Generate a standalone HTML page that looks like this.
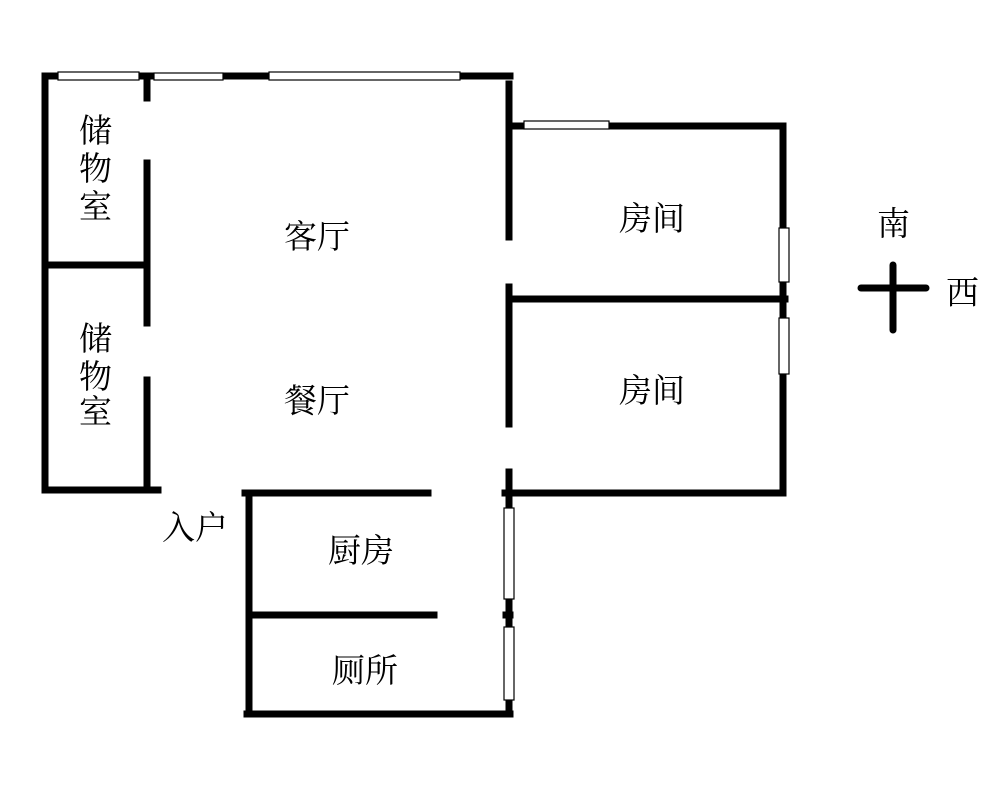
<!DOCTYPE html>
<html><head><meta charset="utf-8"><style>
body{margin:0;background:#fff}
svg{display:block}
text{font-family:"Liberation Serif","Noto Serif CJK SC","Noto Sans CJK SC",serif;font-size:33px;fill:#000}
</style></head><body>
<svg width="1000" height="812" viewBox="0 0 1000 812">
<g stroke="#000" stroke-width="7" fill="none" stroke-linecap="square">
<line x1="45" y1="76" x2="510" y2="76"/>
<line x1="45" y1="76" x2="45" y2="490"/>
<line x1="45" y1="265" x2="146" y2="265"/>
<line x1="45" y1="490" x2="158" y2="490"/>
<line x1="147" y1="76" x2="147" y2="98"/>
<line x1="147" y1="163" x2="147" y2="323"/>
<line x1="147" y1="380" x2="147" y2="488"/>
<line x1="509" y1="84" x2="509" y2="237"/>
<line x1="509" y1="287" x2="509" y2="424"/>
<line x1="509" y1="472" x2="509" y2="713"/>
<line x1="509" y1="126" x2="783" y2="126"/>
<line x1="783" y1="126" x2="783" y2="493"/>
<line x1="509" y1="299" x2="785" y2="299"/>
<line x1="509" y1="493" x2="783" y2="493"/>
<line x1="245" y1="493" x2="428" y2="493"/>
<line x1="249" y1="493" x2="249" y2="714"/>
<line x1="249" y1="615" x2="434" y2="615"/>
<line x1="247" y1="714" x2="510" y2="714"/>
<line x1="506" y1="615" x2="510" y2="615"/>
<line x1="505" y1="493" x2="510" y2="493"/>
<line x1="861" y1="288" x2="926" y2="288" stroke-linecap="round"/>
<line x1="893" y1="265" x2="893" y2="330" stroke-linecap="round"/>
</g>
<g fill="#fff" stroke="#000" stroke-width="1.2">
<rect x="58" y="72" width="81" height="8"/>
<rect x="154" y="73" width="69" height="7"/>
<rect x="269" y="72" width="191" height="8"/>
<rect x="524" y="121" width="85" height="8"/>
<rect x="779" y="228" width="10" height="54"/>
<rect x="779" y="318" width="10" height="56"/>
<rect x="504" y="508" width="10" height="91"/>
<rect x="504" y="627" width="10" height="73"/>
</g>
<text x="79" y="142">储</text>
<text x="79" y="180">物</text>
<text x="79" y="218">室</text>
<text x="79" y="350">储</text>
<text x="79" y="388">物</text>
<text x="79" y="423">室</text>
<text x="284" y="248">客厅</text>
<text x="284" y="412">餐厅</text>
<text x="619" y="230">房间</text>
<text x="619" y="402">房间</text>
<text x="328" y="562">厨房</text>
<text x="332" y="682">厕所</text>
<text x="162" y="539">入户</text>
<text x="877" y="235">南</text>
<text x="946" y="304">西</text>
</svg>
</body></html>
